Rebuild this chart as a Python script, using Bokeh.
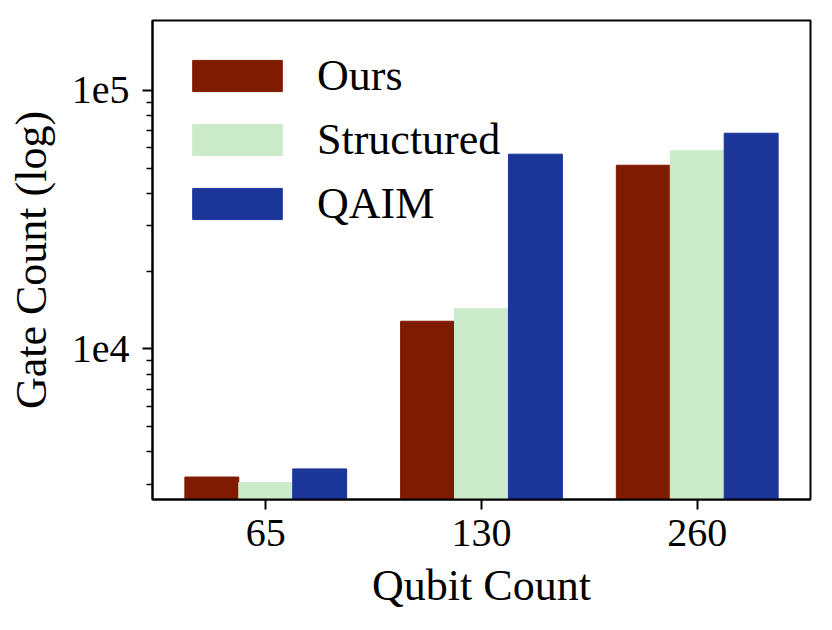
from bokeh.plotting import figure
from bokeh.models import (FactorRange, Range1d, FixedTicker, Legend, LegendItem,
                          ColumnDataSource, CustomJSTickFormatter)
from bokeh.transform import dodge
from bokeh.embed import file_html
from bokeh.resources import INLINE

# ---- data ----
qubits = ["65", "130", "260"]
ours = [3200, 12800, 51300]
structured = [3050, 14300, 58400]
qaim = [3440, 56600, 68200]
series_names = ["Ours", "Structured", "QAIM"]
series_colors = ["#7f1b00", "#cbebcb", "#1b3599"]
y_major_ticks = [1e4, 1e5]
y_minor_ticks = [3000, 4000, 5000, 6000, 7000, 8000, 9000,
                 20000, 30000, 40000, 50000, 60000, 70000, 80000, 90000]

FONT = "Liberation Serif"

source = ColumnDataSource(data=dict(q=qubits, Ours=ours, Structured=structured,
                                    QAIM=qaim, base=[1, 1, 1]))

p = figure(x_range=FactorRange(factors=qubits, range_padding=0.025,
                               range_padding_units="absolute"),
           y_axis_type="log", y_range=Range1d(2620, 186000),
           frame_width=658, frame_height=479,
           min_border_left=152, min_border_right=12,
           min_border_top=20, min_border_bottom=120,
           output_backend="svg", toolbar_location=None)

renderers = []
for name, color, off in zip(series_names, series_colors, [-0.25, 0.0, 0.25]):
    r = p.vbar(x=dodge("q", off, range=p.x_range), top=name, bottom="base",
               width=0.25, source=source, fill_color=color, line_color=color,
               line_width=1)
    renderers.append(r)

p.xgrid.visible = False
p.ygrid.visible = False
p.outline_line_color = "black"
p.outline_line_width = 2
p.background_fill_color = "white"
p.border_fill_color = "white"

# y axis
p.yaxis.ticker = FixedTicker(ticks=y_major_ticks, minor_ticks=y_minor_ticks)
p.yaxis.formatter = CustomJSTickFormatter(code="return '1e' + Math.round(Math.log10(tick));")
p.yaxis.axis_label = "Gate Count (log)"

# x axis
p.xaxis.axis_label = "Qubit Count"

for ax in (p.xaxis, p.yaxis):
    ax.axis_line_width = 2
    ax.axis_line_color = "black"
    ax.major_tick_line_width = 2
    ax.minor_tick_line_width = 1.5
    ax.major_tick_out = 10
    ax.major_tick_in = 0
    ax.minor_tick_out = 6
    ax.minor_tick_in = 0
    ax.major_label_text_font = FONT
    ax.major_label_text_font_size = "40px"
    ax.major_label_text_color = "black"
    ax.axis_label_text_font = FONT
    ax.axis_label_text_font_size = "44px"
    ax.axis_label_text_font_style = "normal"
    ax.axis_label_text_color = "black"

p.yaxis.major_label_standoff = 13
p.xaxis.major_label_standoff = 10
p.yaxis.axis_label_standoff = 13
p.xaxis.axis_label_standoff = 12
p.xaxis.minor_tick_line_color = None

legend = Legend(items=[LegendItem(label=n, renderers=[r]) for n, r in zip(series_names, renderers)],
                location=(29, 270))
legend.padding = 0
legend.margin = 0
legend.border_line_color = None
legend.background_fill_alpha = 0
legend.glyph_width = 112
legend.glyph_height = 39
legend.label_standoff = 24
legend.label_height = 50
legend.spacing = 13
legend.label_text_font = FONT
legend.label_text_font_size = "44px"
legend.label_text_color = "black"
p.add_layout(legend, "center")

open("out.html", "w").write(file_html(p, INLINE))
